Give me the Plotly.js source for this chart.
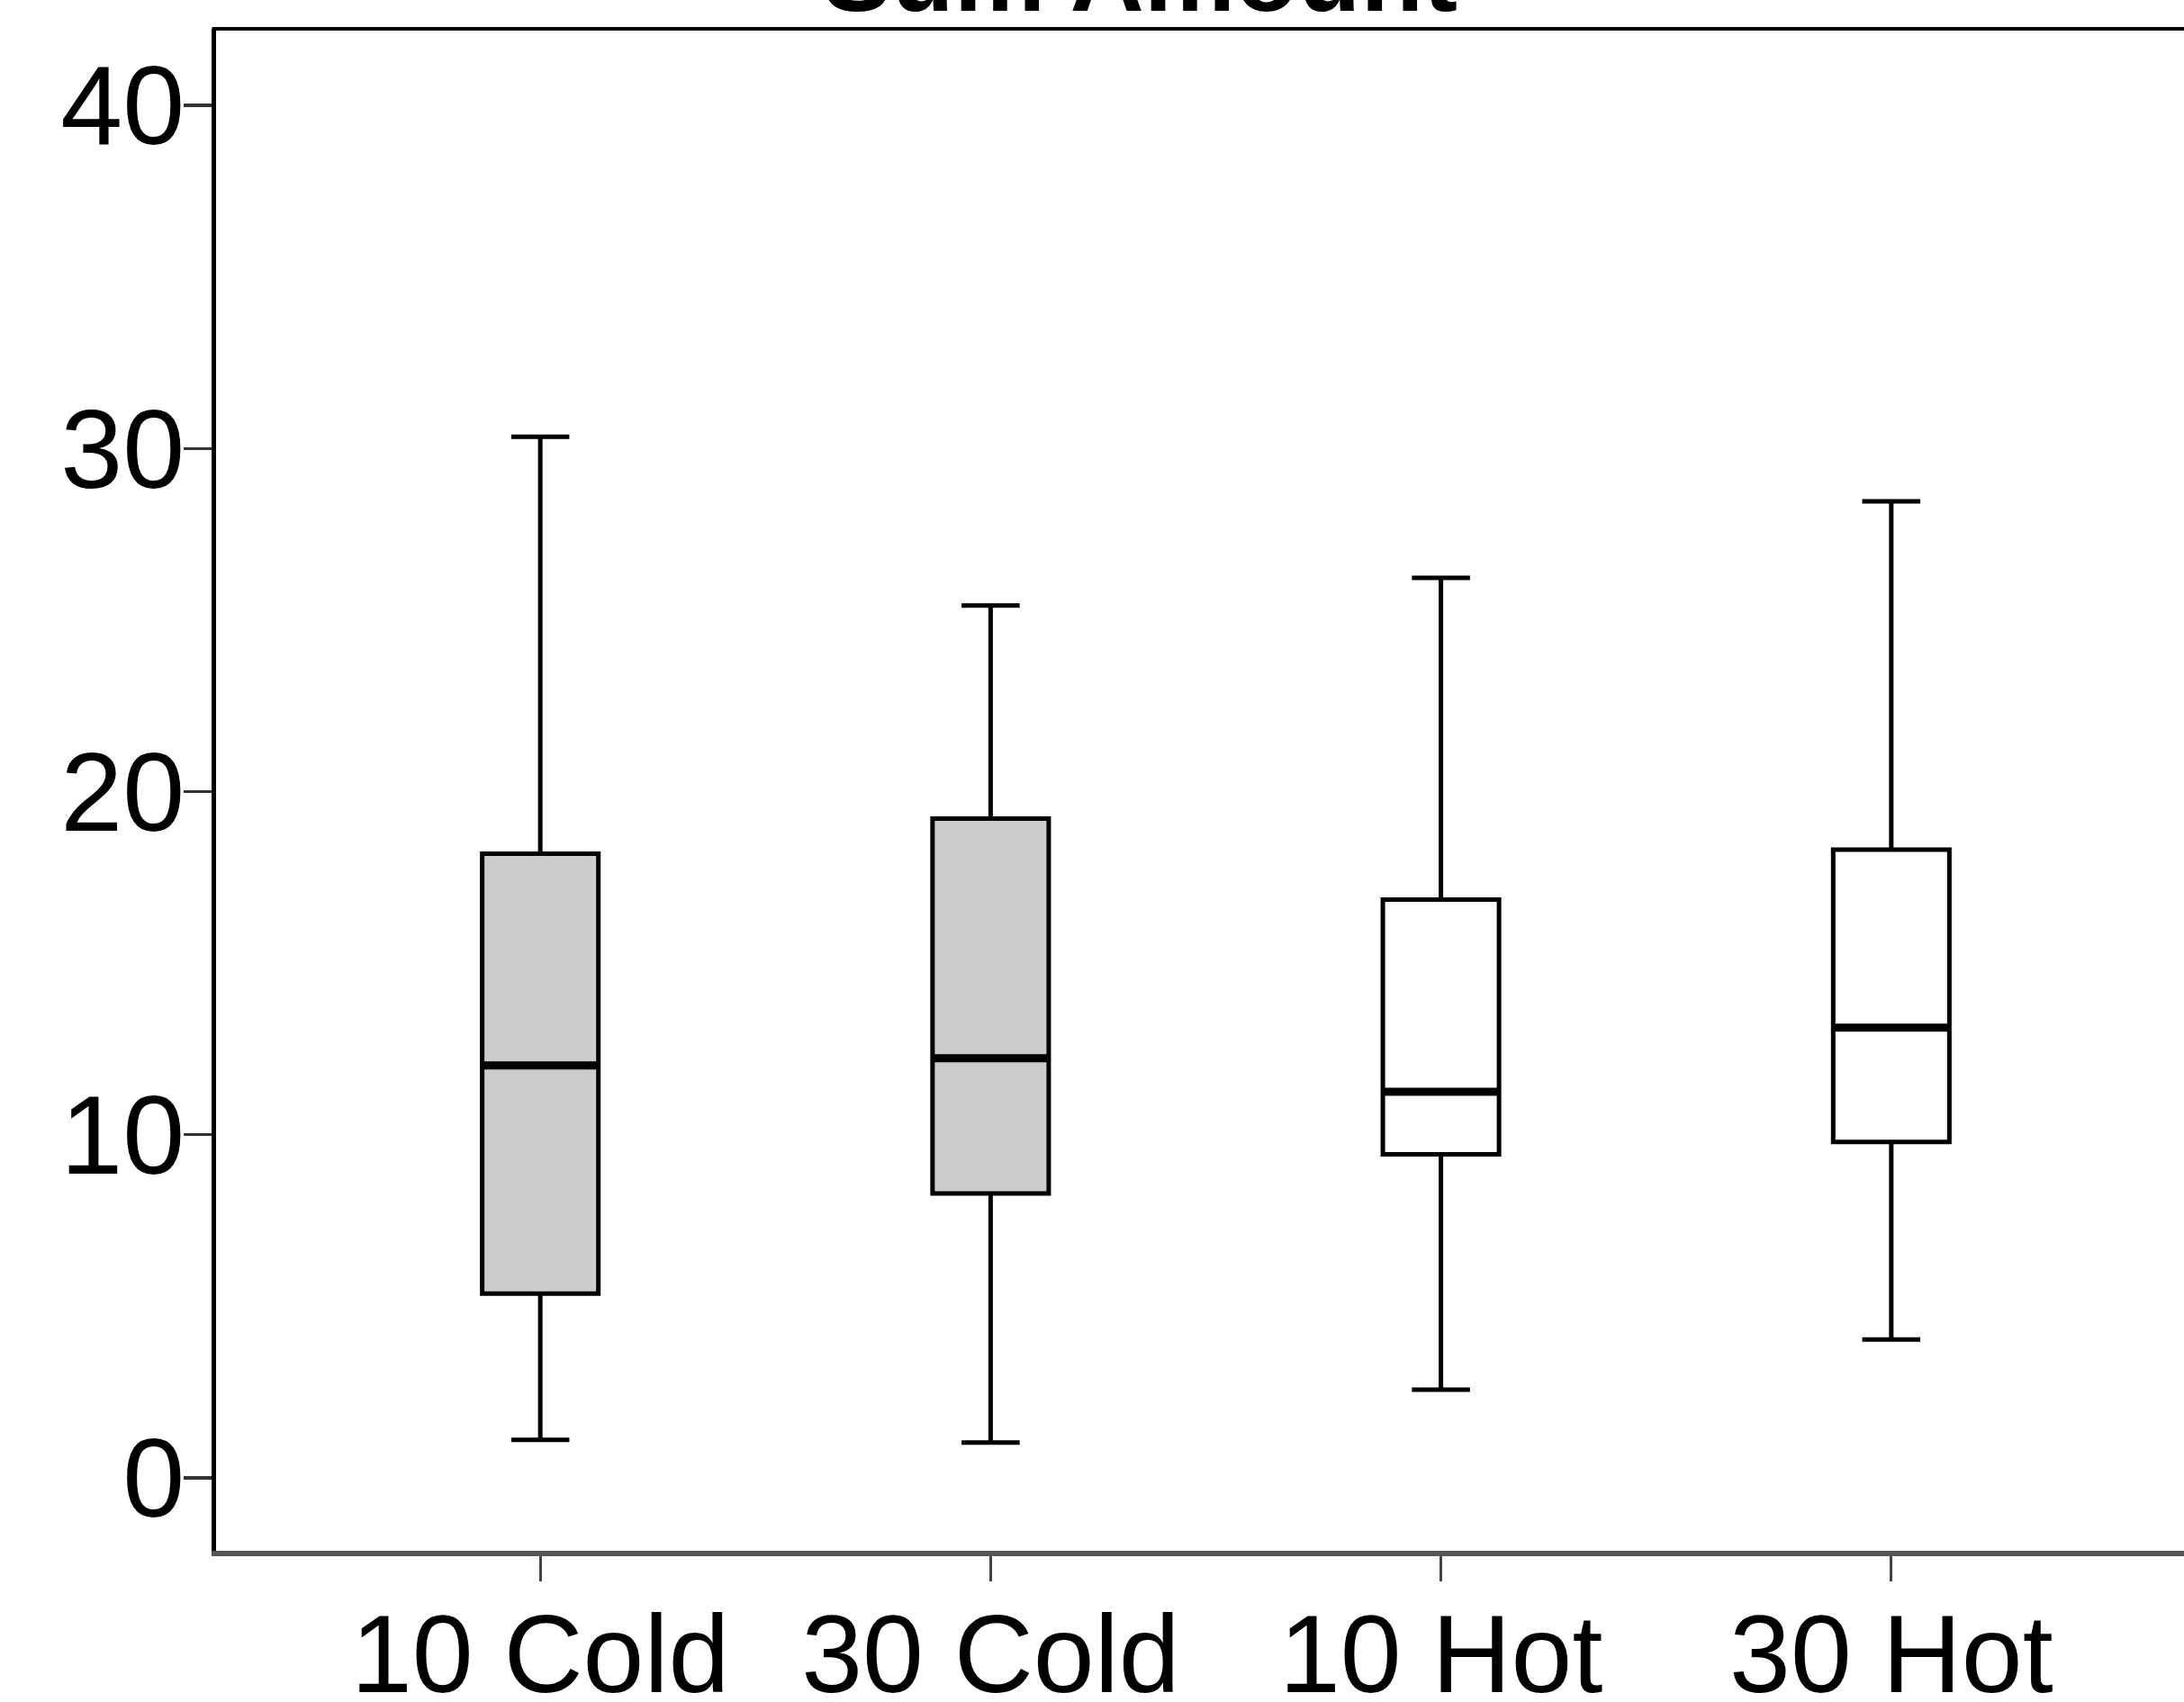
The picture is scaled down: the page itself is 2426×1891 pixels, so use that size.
<!DOCTYPE html>
<html>
<head>
<meta charset="utf-8">
<script src="https://cdn.plot.ly/plotly-3.0.1.min.js"></script>
<style>
html, body { margin: 0; padding: 0; overflow: hidden; background: #fff; width: 2426px; height: 1891px; }
#chart { width: 2500px; height: 1891px; }
</style>
</head>
<body>
<div id="chart"></div>
<script>
// Data
const categories = ['10 Cold', '30 Cold', '10 Hot', '30 Hot'];
const lowerWhisker = [1.11, 1.03, 2.57, 4.03];
const q1Values     = [5.37, 8.29, 9.43, 9.79];
const medianValues = [12.02, 12.23, 11.25, 13.12];
const q3Values     = [18.19, 19.21, 16.85, 18.31];
const upperWhisker = [30.34, 25.42, 26.23, 28.46];
const fillColors   = ['#CCCCCC', '#CCCCCC', '#FFFFFF', '#FFFFFF'];
const yTickValues  = [0, 10, 20, 30, 40];
const chartTitle   = 'Sum Amount';

const boxWidth = 0.258;
const traces = categories.map((c, i) => ({
  type: 'box',
  x: [c],
  q1: [q1Values[i]],
  median: [medianValues[i]],
  q3: [q3Values[i]],
  lowerfence: [lowerWhisker[i]],
  upperfence: [upperWhisker[i]],
  fillcolor: fillColors[i],
  line: { color: '#000000', width: 5 },
  width: boxWidth,
  whiskerwidth: 0.5,
  boxpoints: false,
  hoverinfo: 'skip',
  showlegend: false
}));

// Thicker median lines, from the median values
const shapes = medianValues.map((m, i) => ({
  type: 'line', xref: 'x', yref: 'y',
  x0: i - boxWidth / 2, x1: i + boxWidth / 2, y0: m, y1: m,
  line: { color: '#000000', width: 9 }
}));
// top frame line
shapes.push({
  type: 'line', xref: 'paper', yref: 'paper',
  x0: -0.002, x1: 1, y0: 1, y1: 1,
  line: { color: '#000000', width: 4 }
});

const font = 'Liberation Sans, Arial, sans-serif';

const layout = {
  width: 2500,
  height: 1891,
  margin: { l: 240, r: 39, t: 32, b: 168, pad: 0 },
  paper_bgcolor: '#ffffff',
  plot_bgcolor: '#ffffff',
  boxmode: 'overlay',
  showlegend: false,
  font: { family: font, color: '#000000' },
  xaxis: {
    type: 'category',
    categoryorder: 'array',
    categoryarray: categories,
    range: [-0.72, 3.72],
    showgrid: false,
    zeroline: false,
    showline: true,
    linecolor: '#555555',
    linewidth: 6,
    ticks: 'outside',
    ticklen: 28,
    tickwidth: 3,
    tickcolor: '#444444',
    ticklabelstandoff: -23,
    tickfont: { family: font, size: 122, color: '#000000' }
  },
  yaxis: {
    range: [-2.125, 42.23],
    tickvals: yTickValues,
    ticktext: yTickValues.map(String),
    showgrid: false,
    zeroline: false,
    showline: true,
    linecolor: '#000000',
    linewidth: 5,
    ticks: 'outside',
    ticklen: 31,
    tickwidth: 3.5,
    tickcolor: '#333333',
    ticklabelstandoff: -26,
    tickfont: { family: font, size: 124, color: '#000000' }
  },
  shapes: shapes,
  annotations: [{
    text: '<b>' + chartTitle + '</b>',
    xref: 'paper', yref: 'paper',
    x: 0.4624, y: 1,
    xanchor: 'center', yanchor: 'bottom',
    yshift: -6,
    showarrow: false,
    font: { family: font, size: 114, color: '#000000' }
  }]
};

Plotly.newPlot('chart', traces, layout, { staticPlot: true, displayModeBar: false });
</script>
</body>
</html>
